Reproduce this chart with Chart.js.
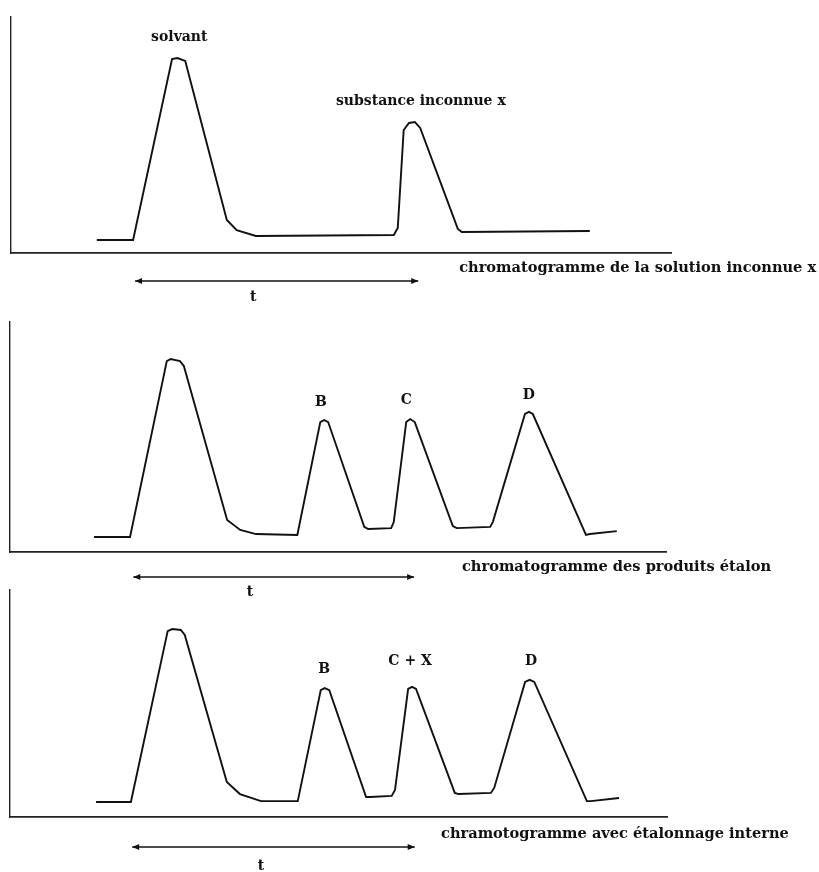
<!DOCTYPE html>
<html>
<head>
<meta charset="utf-8">
<script src="https://cdn.jsdelivr.net/npm/chart.js@4/dist/chart.umd.min.js"></script>
<style>
  html, body { margin: 0; padding: 0; background: #fff; }
  body { position: relative; width: 819px; height: 872px; overflow: hidden; }
  canvas { position: absolute; left: 0; }
</style>
</head>
<body>
<canvas id="chromUnknown" width="819" height="310" style="top:0px"></canvas>
<canvas id="chromStandards" width="819" height="305" style="top:300px"></canvas>
<canvas id="chromInternal" width="819" height="292" style="top:580px"></canvas>
<script>
// retention time (arbitrary units) and detector signal (% of axis height)
const unknownTime   = [13.0, 18.5, 24.4, 25.2, 26.4, 32.7, 34.2, 37.1, 58.0, 58.6, 59.5, 60.3, 61.2, 62.0, 67.7, 68.3, 87.7];
const unknownSignal = [5.5, 5.5, 82.2, 82.6, 81.4, 14.0, 9.7, 7.2, 7.6, 10.6, 52.1, 55.1, 55.5, 53.0, 10.2, 8.9, 9.3];

const standardTime   = [12.8, 18.3, 23.9, 24.5, 25.9, 26.5, 33.1, 35.1, 37.5, 43.8, 47.3, 47.9, 48.5, 54.0, 54.6, 58.1, 58.5, 60.4, 61.0, 61.7, 67.5, 68.1, 73.2, 73.6, 78.5, 79.1, 79.7, 87.8, 88.4, 92.5];
const standardSignal = [6.5, 6.5, 83.0, 83.9, 83.0, 80.9, 13.9, 9.6, 7.8, 7.4, 56.5, 57.4, 56.5, 10.9, 10.0, 10.4, 13.0, 56.5, 57.8, 56.5, 11.3, 10.4, 10.9, 13.0, 60.0, 60.9, 60.0, 7.4, 7.8, 9.1];

const internalTime   = [13.1, 18.4, 24.0, 24.7, 26.0, 26.6, 33.0, 35.0, 38.2, 43.8, 47.3, 47.9, 48.6, 54.2, 54.8, 58.1, 58.6, 60.6, 61.2, 61.8, 67.7, 68.3, 73.2, 73.7, 78.4, 79.1, 79.8, 87.8, 88.4, 92.7];
const internalSignal = [6.6, 6.6, 81.9, 82.8, 82.4, 80.2, 15.4, 10.1, 7.0, 7.0, 55.9, 56.8, 55.9, 8.8, 8.8, 9.3, 11.9, 56.4, 57.3, 56.4, 10.6, 10.1, 10.6, 12.8, 59.5, 60.4, 59.5, 7.0, 7.0, 8.4];

// peak labels: text, time, height
const unknownLabels  = ['solvant', 'substance inconnue x'];
const unknownLabelT  = [25.5, 62.1];
const unknownLabelV  = [91.5, 64.4];
const standardLabels = ['B', 'C', 'D'];
const standardLabelT = [47.4, 60.4, 79.1];
const standardLabelV = [65.2, 66.1, 68.3];
const internalLabels = ['B', 'C + X', 'D'];
const internalLabelT = [47.8, 60.9, 79.3];
const internalLabelV = [65.2, 68.7, 68.7];

// retention time t: from injection to the peak of x
const injectionTime = [18.8, 18.8, 18.6];
const peakXTime     = [61.7, 61.6, 61.6];

const ink = '#111111';
const serif = '"DejaVu Serif", "Liberation Serif", serif';

const notesPlugin = {
    id: 'chromaNotes',
    afterDatasetsDraw(chart, args, opts) {
        const { ctx, chartArea } = chart;
        const x = chart.scales.x, y = chart.scales.y;
        ctx.save();
        ctx.fillStyle = ink;
        ctx.strokeStyle = ink;
        ctx.textAlign = 'center';
        ctx.textBaseline = 'middle';
        ctx.font = 'bold 14px ' + serif;
        opts.labels.forEach((txt, i) => {
            ctx.fillText(txt, x.getPixelForValue(opts.labelT[i]), y.getPixelForValue(opts.labelV[i]));
        });

        // double arrow for t
        const ay = chartArea.bottom + opts.arrowGap;
        const x0 = x.getPixelForValue(opts.from), x1 = x.getPixelForValue(opts.to);
        ctx.lineWidth = 1.6;
        ctx.beginPath();
        ctx.moveTo(x0, ay);
        ctx.lineTo(x1, ay);
        ctx.stroke();
        [[x0, 1], [x1, -1]].forEach(([px, dir]) => {
            ctx.beginPath();
            ctx.moveTo(px, ay);
            ctx.lineTo(px + dir * 7, ay - 3);
            ctx.lineTo(px + dir * 7, ay + 3);
            ctx.closePath();
            ctx.fill();
        });
        ctx.fillText('t', x.getPixelForValue(opts.tAt), chartArea.bottom + opts.tGap);

        // caption
        ctx.textAlign = 'left';
        ctx.font = 'bold 14.6px ' + serif;
        ctx.fillText(opts.caption, x.getPixelForValue(opts.captionAt), chartArea.bottom + opts.captionGap);
        ctx.restore();
    }
};

function makeChromatogram(id, times, signal, padding, notes) {
    const ctx = document.getElementById(id).getContext('2d');
    return new Chart(ctx, {
        type: 'line',
        data: {
            datasets: [{
                data: times.map((t, i) => ({ x: t, y: signal[i] })),
                borderColor: ink,
                borderWidth: 1.9,
                pointRadius: 0,
                tension: 0,
                fill: false
            }]
        },
        options: {
            responsive: false,
            animation: false,
            events: [],
            layout: { padding: padding },
            plugins: {
                legend: { display: false },
                tooltip: { enabled: false },
                chromaNotes: notes
            },
            scales: {
                x: {
                    type: 'linear', min: 0, max: 100,
                    grid: { display: false },
                    ticks: { display: false },
                    border: { display: true, color: '#222222', width: 1.8 },
                    afterFit: s => { s.height = 0; }
                },
                y: {
                    min: 0, max: 100,
                    grid: { display: false },
                    ticks: { display: false },
                    border: { display: true, color: '#222222', width: 1.4 },
                    afterFit: s => { s.width = 0; }
                }
            }
        },
        plugins: [notesPlugin]
    });
}

makeChromatogram('chromUnknown', unknownTime, unknownSignal,
    { left: 11, right: 148, top: 17, bottom: 57 },
    { labels: unknownLabels, labelT: unknownLabelT, labelV: unknownLabelV,
      from: injectionTime[0], to: peakXTime[0], arrowGap: 28, tAt: 36.7, tGap: 44,
      caption: 'chromatogramme de la solution inconnue x', captionAt: 67.9, captionGap: 15 });

makeChromatogram('chromStandards', standardTime, standardSignal,
    { left: 10, right: 153, top: 22, bottom: 53 },
    { labels: standardLabels, labelT: standardLabelT, labelV: standardLabelV,
      from: injectionTime[1], to: peakXTime[1], arrowGap: 25, tAt: 36.6, tGap: 40,
      caption: 'chromatogramme des produits étalon', captionAt: 68.9, captionGap: 15 });

makeChromatogram('chromInternal', internalTime, internalSignal,
    { left: 10, right: 152, top: 10, bottom: 55 },
    { labels: internalLabels, labelT: internalLabelT, labelV: internalLabelV,
      from: injectionTime[2], to: peakXTime[2], arrowGap: 30, tAt: 38.2, tGap: 49,
      caption: 'chramotogramme avec étalonnage interne', captionAt: 65.6, captionGap: 17 });
</script>
</body>
</html>
